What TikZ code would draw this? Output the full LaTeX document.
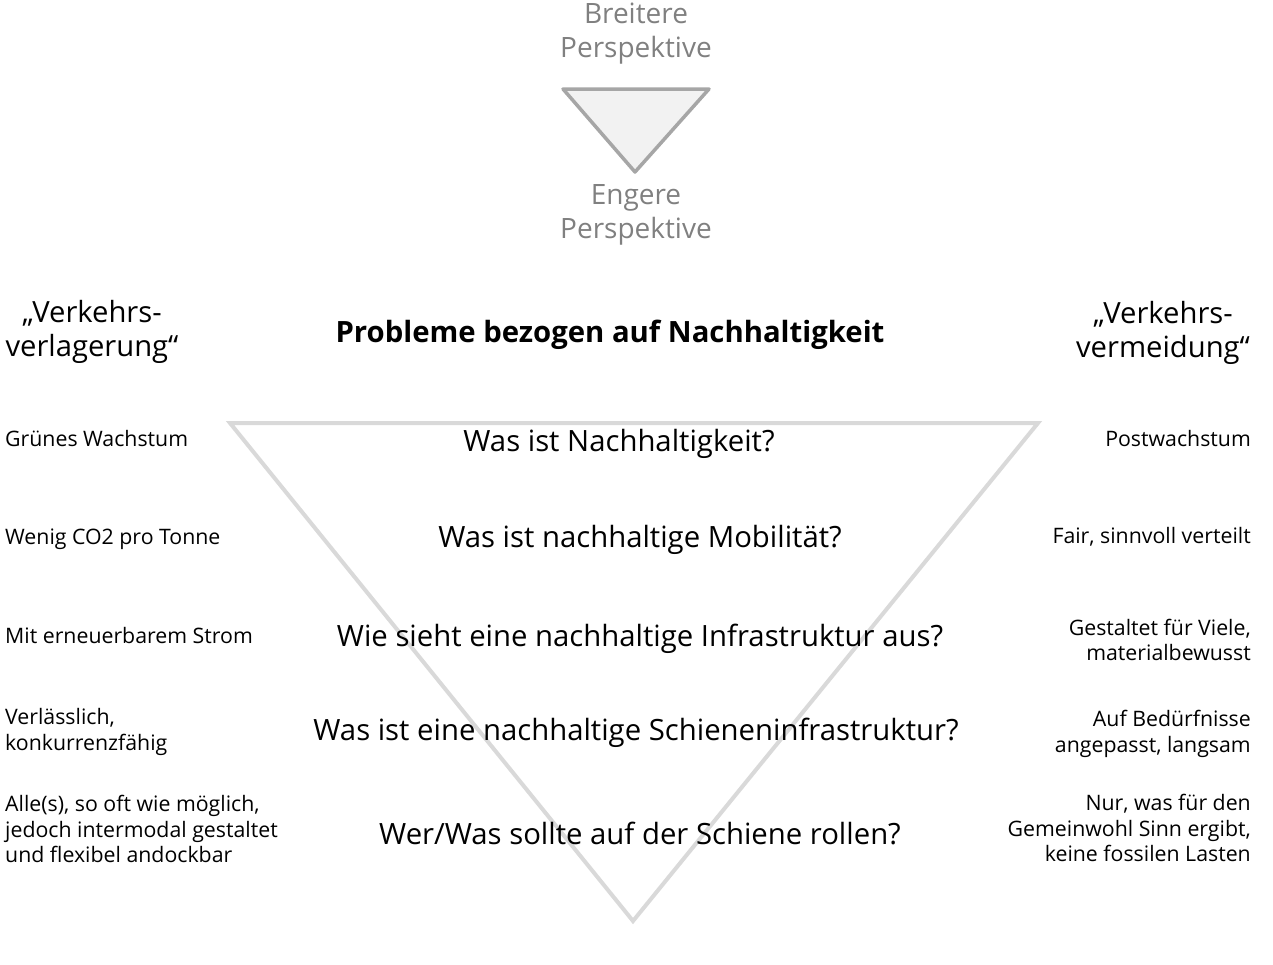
\documentclass[tikz,border=0pt]{standalone}
\usepackage{fontspec}
\setmainfont{Open Sans}
\usepackage{xcolor}
\usetikzlibrary{positioning}

\definecolor{rahmengrau}{HTML}{D9D9D9}
\definecolor{pfeilgrau}{HTML}{A6A6A6}
\definecolor{pfeilfuell}{HTML}{F2F2F2}
\definecolor{textgrau}{HTML}{808080}

\tikzset{
  perspektive/.style={inner sep=0pt, align=center, text=textgrau, font=\fontsize{28}{34}\selectfont},
  richtung/.style={inner sep=0pt, align=center, font=\fontsize{29.2}{34}\selectfont},
  frage/.style={inner sep=0pt, font=\fontsize{29.3}{34}\selectfont},
  links/.style={inner sep=0pt, anchor=west, align=left, font=\fontsize{21.3}{25.5}\selectfont},
  rechts/.style={inner sep=0pt, anchor=east, align=right, font=\fontsize{21.3}{25.5}\selectfont}
}

\begin{document}
\begin{tikzpicture}[x=1pt, y=-1pt]
    \useasboundingbox (0,0) rectangle (1273,964);

    % kleines Dreieck oben
    \node[perspektive] (breit) at (636,34) {Breitere\\Perspektive};
    \draw[pfeilgrau, fill=pfeilfuell, line width=3.5pt, line join=round]
        (563,89) -- (709,89) -- (635,172) -- cycle;
    \node[perspektive] (eng) at (636,215) {Engere\\Perspektive};

    % Ueberschriften
    \node[richtung] (verlagerung) at (92,332) {„Verkehrs-\\verlagerung“};
    \node[richtung] (vermeidung) at (1163,333) {„Verkehrs-\\vermeidung“};
    \node[frage, font=\bfseries\fontsize{29.3}{34}\selectfont] (probleme) at (610,335) {Probleme bezogen auf Nachhaltigkeit};

    % grosses Dreieck
    \draw[rahmengrau, line width=4pt] (230,423) -- (1038,423) -- (633,921) -- cycle;

    % Fragen im Dreieck
    \node[frage] (f1) at (619,444) {Was ist Nachhaltigkeit?};
    \node[frage] (f2) at (640,540) {Was ist nachhaltige Mobilität?};
    \node[frage] (f3) at (640,639) {Wie sieht eine nachhaltige Infrastruktur aus?};
    \node[frage] (f4) at (636,733) {Was ist eine nachhaltige Schieneninfrastruktur?};
    \node[frage] (f5) at (640,833) {Wer/Was sollte auf der Schiene rollen?};

    % linke Spalte
    \node[links] (l1) at (5,439) {Grünes Wachstum};
    \node[links] (l2) at (5,539) {Wenig CO2 pro Tonne};
    \node[links] (l3) at (5,636) {Mit erneuerbarem Strom};
    \node[links] (l4) at (5,732) {Verlässlich,\\konkurrenzfähig};
    \node[links] (l5) at (5,829) {Alle(s), so oft wie möglich,\\jedoch intermodal gestaltet\\und flexibel andockbar};

    % rechte Spalte
    \node[rechts] (r1) at (1251,439) {Postwachstum};
    \node[rechts] (r2) at (1251,537) {Fair, sinnvoll verteilt};
    \node[rechts] (r3) at (1251,640) {Gestaltet für Viele,\\materialbewusst};
    \node[rechts] (r4) at (1251,734) {Auf Bedürfnisse\\angepasst, langsam};
    \node[rechts] (r5) at (1251,828) {Nur, was für den\\Gemeinwohl Sinn ergibt,\\keine fossilen Lasten};
\end{tikzpicture}
\end{document}
